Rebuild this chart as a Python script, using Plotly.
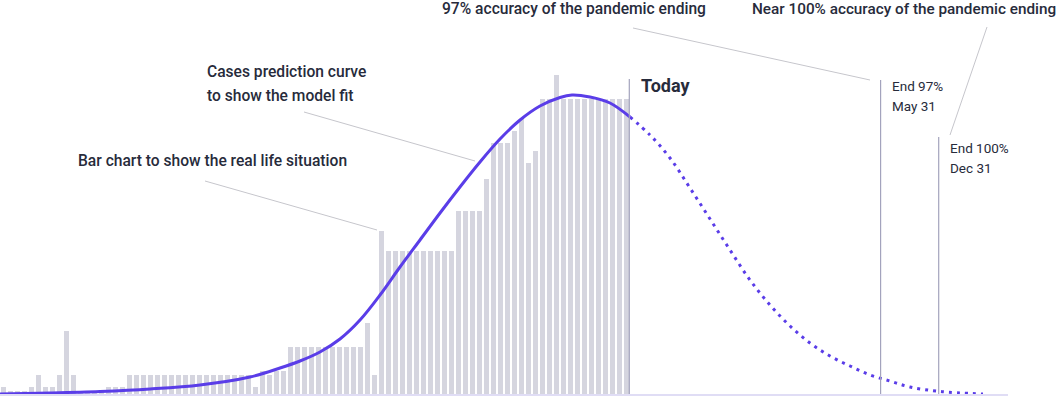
import plotly.graph_objects as go

W, H = 1062, 397

# ---------------- data ----------------
# daily reported cases (bar chart, arbitrary units)
days = list(range(90))
cases = [7, 3, 3, 3, 7, 19, 7, 7, 19, 63,
         19, 2, 2, 2, 2, 7, 7, 7, 19, 19,
         19, 19, 19, 19, 19, 19, 19, 19, 19, 19,
         19, 19, 19, 19, 19, 19, 7, 23, 19, 23,
         23, 47, 47, 47, 47, 47, 47, 47, 47, 47,
         47, 47, 71, 19, 163, 143, 143, 143, 143, 143,
         143, 143, 143, 143, 143, 183, 183, 183, 183, 215,
         251, 251, 251, 263, 275, 231, 243, 295, 295, 319,
         295, 295, 295, 295, 295, 295, 295, 295, 295, 295]

# model fit (solid, up to today)
fit_day = [-0.5, 6.64, 13.79, 20.93, 28.07, 35.21, 39.5, 42.36, 45.21, 48.07,
           50.93, 53.79, 56.64, 59.5, 62.36, 65.21, 68.07, 70.93, 73.79, 76.64,
           79.5, 81.21, 83.79, 86.64, 89.5]
fit_value = [0, 1, 2.5, 5, 9, 17, 26, 33, 42, 55,
             74, 99, 127, 154, 181, 207, 232, 255, 274, 288,
             296.5, 299, 297, 291, 277]

# projection (dotted, after today)
proj_day = [89.5, 92.36, 95.21, 98.07, 100.93, 103.79, 106.64, 109.5, 112.36, 115.21,
            118.07, 120.93, 123.79, 126.64, 129.5, 133.79, 139.93]
proj_value = [277, 259, 236, 206, 175, 144, 114, 89, 68, 51,
              38, 28, 19, 13, 7, 2.5, 0]

# event markers
event_day = [89.4, 125.3, 133.6]
event_top = [315, 314, 257]

# ---------------- helpers ----------------
X0 = -0.5
XR = [X0, X0 + W / 7.0]
YR = [-3, 394]


def px_x(p):
    return p / W


def px_y(p):
    return 1 - p / H


fig = go.Figure()

fig.add_trace(go.Bar(x=days, y=cases, marker=dict(color="#d5d5df", line=dict(width=0)),
                     hoverinfo="skip"))

CURVE = "#5a3de8"
fig.add_trace(go.Scatter(x=fit_day, y=fit_value, mode="lines",
                         line=dict(color=CURVE, width=3, shape="spline", smoothing=1.0),
                         hoverinfo="skip"))
fig.add_trace(go.Scatter(x=proj_day, y=proj_value, mode="lines",
                         line=dict(color=CURVE, width=3, shape="spline", smoothing=1.0,
                                   dash="3px,5px"),
                         hoverinfo="skip"))

shapes = []
# baseline
shapes.append(dict(type="line", xref="paper", yref="paper", x0=0, x1=px_x(1008),
                   y0=px_y(395), y1=px_y(395), line=dict(color="#e0ddf5", width=2),
                   layer="above"))
# event vertical lines
for d, t in zip(event_day, event_top):
    shapes.append(dict(type="line", xref="x", yref="y", x0=d, x1=d, y0=0, y1=t,
                       line=dict(color="#a3a3bd", width=1.2), layer="above"))
# leader lines
leaders = [((205, 181), (377, 230)),
           ((304, 112), (475, 161)),
           ((633, 28), (870, 80)),
           ((987, 27), (950, 135))]
for (a, b) in leaders:
    shapes.append(dict(type="line", xref="paper", yref="paper",
                       x0=px_x(a[0]), y0=px_y(a[1]), x1=px_x(b[0]), y1=px_y(b[1]),
                       line=dict(color="#c6c6cc", width=1), layer="above"))

TXT = "#272b3b"
FONT = "Roboto"
labels = [
    ("97% accuracy of the pandemic ending", 441, 9, 15.6, 500),
    ("Near 100% accuracy of the pandemic ending", 751, 9, 15.3, 500),
    ("Cases prediction curve", 206, 72, 15.6, 500),
    ("to show the model fit", 206, 96, 15.6, 500),
    ("Bar chart to show the real life situation", 77, 161, 15.6, 500),
    ("Today", 640, 85, 18, 700),
    ("End 97%", 891, 86, 13.5, 400),
    ("May 31", 891, 106, 13.5, 400),
    ("End 100%", 949, 148, 13.5, 400),
    ("Dec 31", 949, 168, 13.5, 400),
]
annotations = []
for text, lx, cy, size, weight in labels:
    annotations.append(dict(
        text=text,
        xref="paper", yref="paper", x=px_x(lx), y=px_y(cy),
        xanchor="left", yanchor="middle", showarrow=False,
        font=dict(family=FONT, size=size, color=TXT, weight=weight), borderpad=0))

fig.update_layout(
    width=W, height=H,
    margin=dict(l=0, r=0, t=0, b=0),
    paper_bgcolor="white", plot_bgcolor="white",
    showlegend=False,
    bargap=2 / 7,
    xaxis=dict(range=XR, visible=False, fixedrange=True),
    yaxis=dict(range=YR, visible=False, fixedrange=True),
    shapes=shapes,
    annotations=annotations,
)

fig.write_html("out.html", config={"displayModeBar": False},
               post_script="document.body.style.margin='0';document.body.style.overflow='hidden';")
